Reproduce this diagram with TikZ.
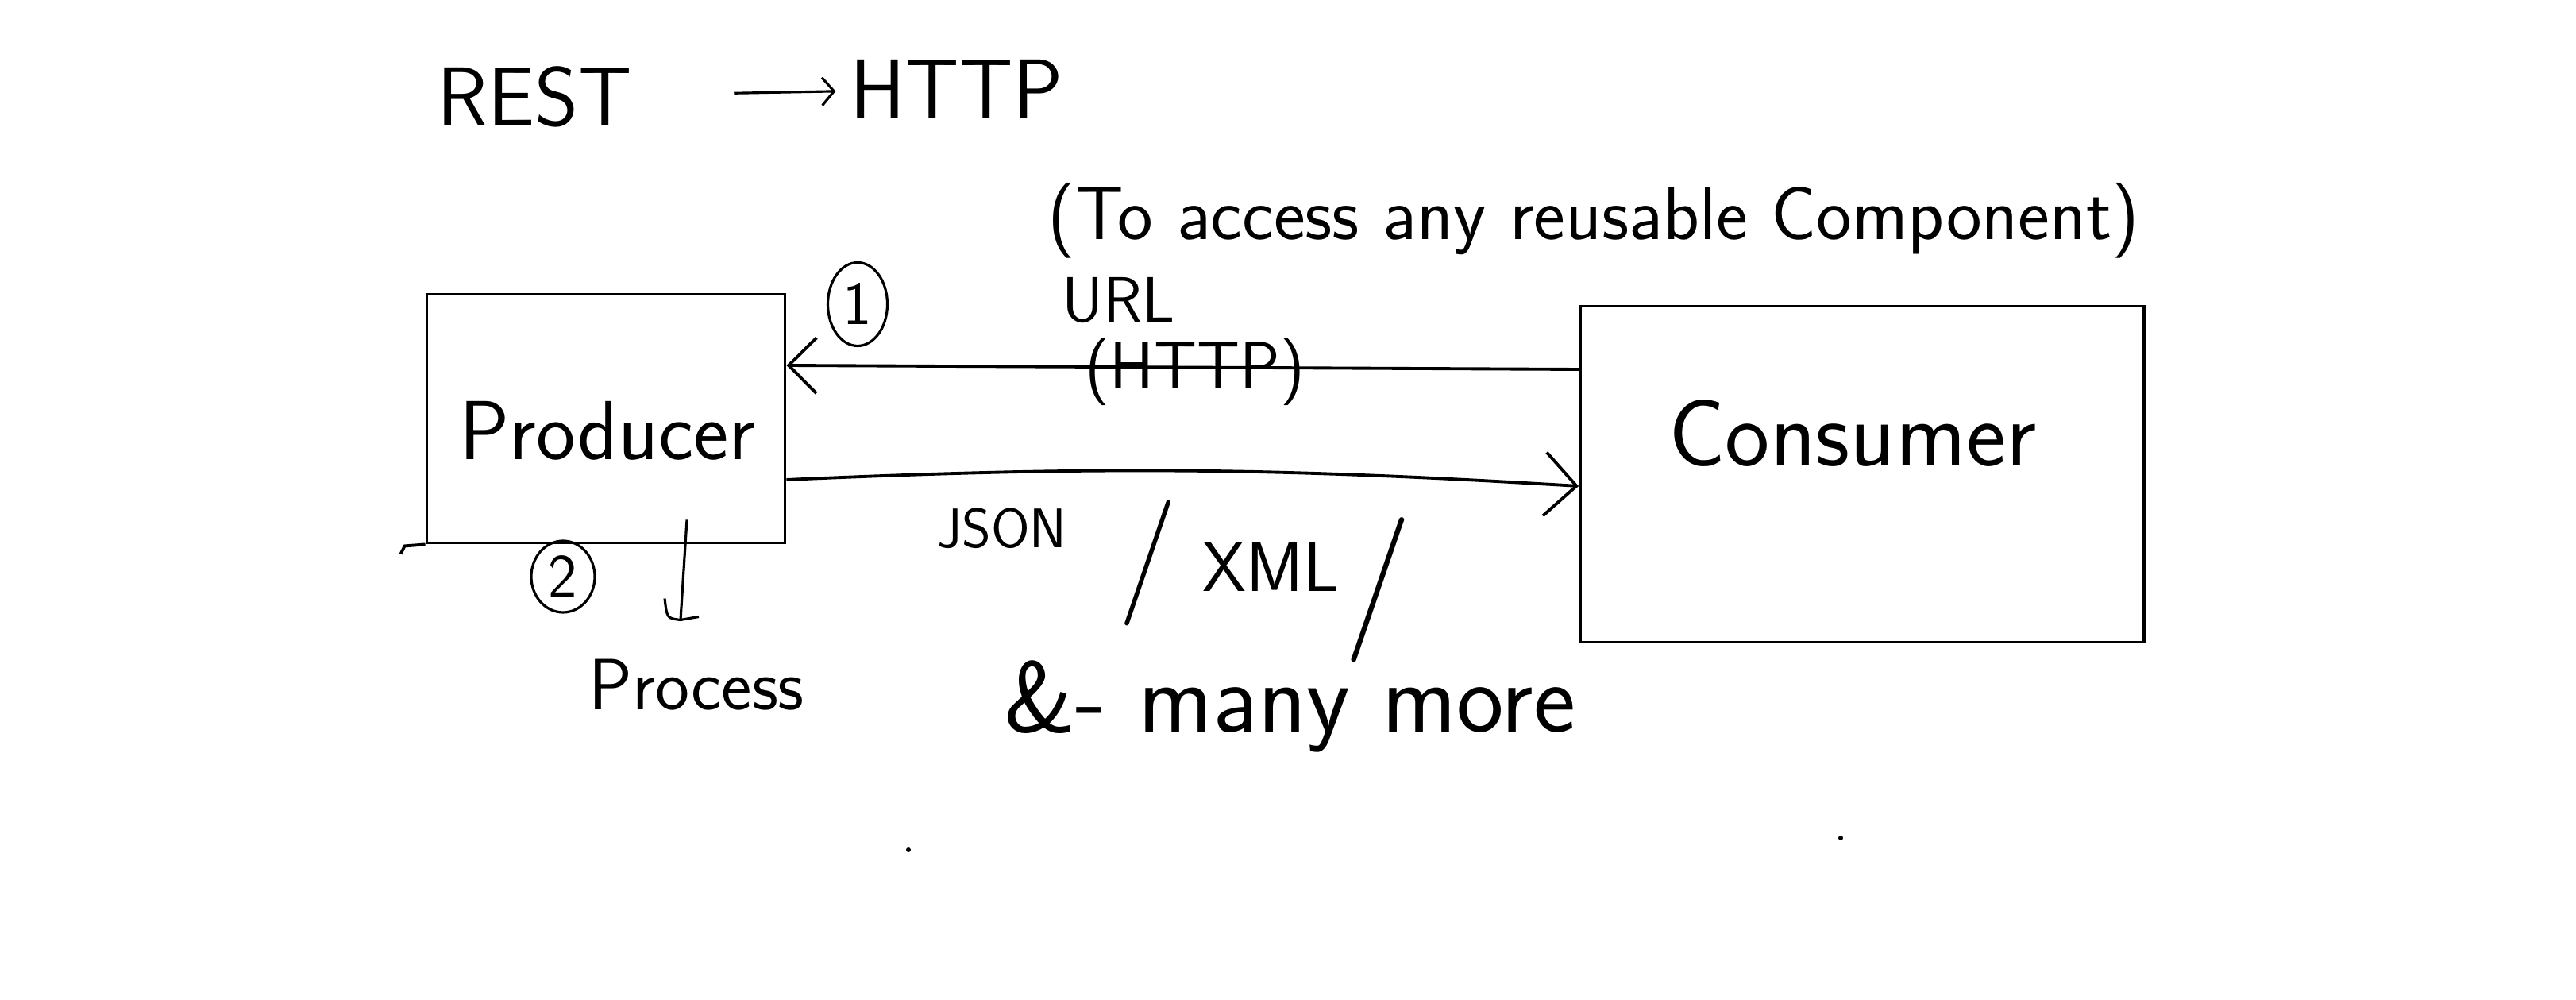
\documentclass[tikz,border=0pt]{standalone}
\usetikzlibrary{arrows.meta,positioning,shapes.geometric}

\tikzset{
  box/.style={draw, line width=1.1pt, inner sep=0pt},
  hand/.style={font=\sffamily\fontsize{#1}{#1}\selectfont, inner sep=1pt},
  num/.style={draw, ellipse, line width=0.9pt, inner sep=0pt,
    font=\sffamily\fontsize{22}{22}\selectfont},
  speck/.style={circle, fill, inner sep=0pt, minimum size=0.6mm}
}

\begin{document}
\begin{tikzpicture}[line width=1.1pt, >={Straight Barb[length=3.5mm,width=7mm]}]
    \useasboundingbox (0,0) rectangle (32.44,12.58);
    % title
    \node[hand=30] (rest) at (6.73,11.36) {REST};
    \node[hand=30] (http) at (12.05,11.46) {HTTP};
    \draw[->, line width=0.9pt, >={Straight Barb[length=1.5mm,width=3.5mm]},
      shorten <=12.3mm, shorten >=1.3mm] (rest) -- (http);
    \node[hand=27] (purpose) at (20.07,9.80) {(To access any reusable Component)};
    % the two parties
    \node[box, minimum width=4.51cm, minimum height=3.13cm] (producer) at (7.63,7.31) {};
    \node[hand=30] (prodname) at (7.65,7.16) {Producer};
    \node[box, minimum width=7.10cm, minimum height=4.23cm] (consumer) at (23.45,6.61) {};
    \node[hand=34] (consname) at (23.33,7.13) {Consumer};
    \draw (producer.south west) -- ++(-0.26,-0.02) -- ++(-0.05,-0.1);
    % request and response
    \path[->]
    ([yshift=13.2mm]consumer.west) edge ([yshift=6.7mm]producer.east)
    ([yshift=-7.7mm]producer.east) edge [bend left=3, >={Straight Barb[length=4mm,width=8mm]}]
      ([yshift=-1.5mm]consumer.west);
    \node[num, minimum width=0.75cm, minimum height=1.05cm] (one) at (10.80,8.75) {1};
    \node[hand=23] (url) at (14.09,8.80) {URL};
    \node[hand=24] (httpnote) at (15.05,7.90) {(HTTP)};
    \node[hand=20] (json) at (12.62,5.93) {JSON};
    \node[hand=45] (slashA) at (14.46,5.49) {/};
    \node[hand=25] (xml) at (16.00,5.44) {XML};
    \node[hand=52] (slashB) at (17.35,5.15) {/};
    \node[hand=36] (more) at (16.24,3.69) {\&- many more};
    % processing step
    \node[num, minimum width=0.8cm, minimum height=0.9cm] (two) at (7.09,5.32) {2};
    \node[hand=26] (process) at (8.77,3.96) {Process};
    \draw[line width=0.9pt] ([xshift=10.2mm,yshift=3.1mm]producer.south)
      -- ([xshift=-2mm,yshift=4.4mm]process.north) coordinate (tail);
    \draw[line width=0.9pt] ([shift={(-0.2,0.27)}]tail) .. controls ([shift={(-0.17,0.02)}]tail) .. (tail)
      -- ([shift={(0.23,0.04)}]tail);
    % stray marks
    \node[speck] (speckA) at (11.44,1.88) {};
    \node[speck] (speckB) at (23.18,2.03) {};
  \end{tikzpicture}
\end{document}
